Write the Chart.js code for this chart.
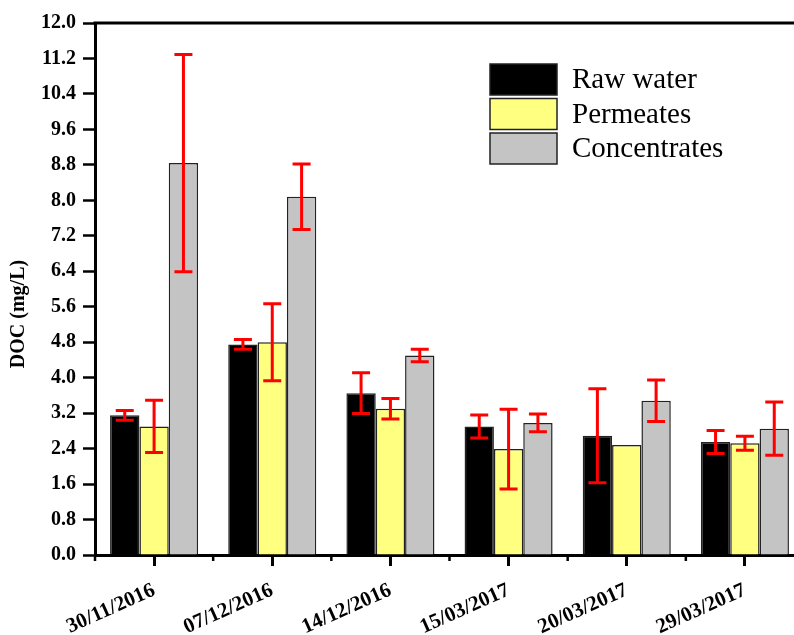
<!DOCTYPE html>
<html>
<head>
<meta charset="utf-8">
<script src="https://cdn.jsdelivr.net/npm/chart.js@4.4.0/dist/chart.umd.min.js"></script>
<style>
  html, body { margin: 0; padding: 0; overflow: hidden; background: #fff; }
  #wrap { width: 820px; height: 635px; }
</style>
</head>
<body>
<div id="wrap"><canvas id="chart"></canvas></div>
<script>
// sampling dates
const dates = ['30/11/2016', '07/12/2016', '14/12/2016', '15/03/2017', '20/03/2017', '29/03/2017'];

// DOC means (mg/L) and standard deviations
const rawWater = [3.15, 4.75, 3.65, 2.90, 2.69, 2.55];
const rawWaterSd = [0.11, 0.11, 0.46, 0.26, 1.06, 0.26];
const permeates = [2.90, 4.80, 3.30, 2.39, 2.48, 2.52];
const permeatesSd = [0.59, 0.87, 0.23, 0.90, 0, 0.16];
const concentrates = [8.84, 8.08, 4.50, 2.98, 3.48, 2.85];
const concentratesSd = [2.45, 0.74, 0.14, 0.20, 0.47, 0.60];

const yTicks = [0, 0.8, 1.6, 2.4, 3.2, 4.0, 4.8, 5.6, 6.4, 7.2, 8.0, 8.8, 9.6, 10.4, 11.2, 12.0];

const serif = "'Liberation Serif', 'Times New Roman', serif";

// red error bars with caps
const errorBars = {
  id: 'errorBars',
  afterDatasetsDraw(chart) {
    const ctx = chart.ctx;
    const y = chart.scales.y;
    ctx.save();
    ctx.strokeStyle = '#ff0000';
    ctx.lineWidth = 3;
    chart.data.datasets.forEach((ds, i) => {
      chart.getDatasetMeta(i).data.forEach((bar, j) => {
        const sd = ds.sd[j];
        if (!sd) return;
        const top = y.getPixelForValue(ds.data[j] + sd);
        const bot = y.getPixelForValue(ds.data[j] - sd);
        const half = 9;
        ctx.beginPath();
        ctx.moveTo(bar.x, top); ctx.lineTo(bar.x, bot);
        ctx.moveTo(bar.x - half, top); ctx.lineTo(bar.x + half, top);
        ctx.moveTo(bar.x - half, bot); ctx.lineTo(bar.x + half, bot);
        ctx.stroke();
      });
    });
    ctx.restore();
  }
};

// top frame line, minor x ticks, legend and y title
const decorations = {
  id: 'decorations',
  afterDraw(chart) {
    const ctx = chart.ctx;
    const area = chart.chartArea;
    const x = chart.scales.x;
    ctx.save();

    ctx.strokeStyle = '#000';
    ctx.lineWidth = 3;
    ctx.beginPath();
    ctx.moveTo(area.left - 1.5, area.top);
    ctx.lineTo(area.right, area.top);
    ctx.stroke();

    const step = x.getPixelForTick(1) - x.getPixelForTick(0);
    ctx.lineWidth = 2.5;
    for (let i = 0; i <= dates.length; i++) {
      const px = x.getPixelForTick(0) - step / 2 + i * step;
      ctx.beginPath();
      ctx.moveTo(px, area.bottom);
      ctx.lineTo(px, area.bottom + 6);
      ctx.stroke();
    }

    // legend
    const boxX = 490, boxY = 64, boxW = 67, boxH = 31, gap = 3.5;
    ctx.font = '29px ' + serif;
    ctx.textBaseline = 'middle';
    chart.data.datasets.forEach((ds, i) => {
      const by = boxY + i * (boxH + gap);
      ctx.fillStyle = ds.backgroundColor;
      ctx.fillRect(boxX, by, boxW, boxH);
      ctx.lineWidth = 1.5;
      ctx.strokeStyle = '#222';
      ctx.strokeRect(boxX, by, boxW, boxH);
      ctx.fillStyle = '#000';
      ctx.fillText(ds.label, 572, by + boxH / 2 + 1);
    });

    // y axis title
    ctx.translate(19, 314);
    ctx.rotate(-Math.PI / 2);
    ctx.font = 'bold 20px ' + serif;
    ctx.textAlign = 'center';
    ctx.textBaseline = 'middle';
    ctx.fillStyle = '#000';
    ctx.fillText('DOC (mg/L)', 0, 0);
    ctx.restore();
  }
};

new Chart(document.getElementById('chart'), {
  type: 'bar',
  data: {
    labels: dates,
    datasets: [
      { label: 'Raw water', data: rawWater, sd: rawWaterSd, backgroundColor: '#000000' },
      { label: 'Permeates', data: permeates, sd: permeatesSd, backgroundColor: '#ffff80' },
      { label: 'Concentrates', data: concentrates, sd: concentratesSd, backgroundColor: '#c4c4c4' }
    ]
  },
  options: {
    responsive: true,
    maintainAspectRatio: false,
    animation: false,
    layout: { padding: { top: 23, right: 16, left: 0, bottom: 0 } },
    datasets: {
      bar: {
        categoryPercentage: 0.745,
        barPercentage: 1.0,
        borderColor: '#222',
        borderWidth: 1.5
      }
    },
    plugins: {
      legend: { display: false },
      tooltip: { enabled: false }
    },
    scales: {
      x: {
        grid: {
          offset: false,
          drawOnChartArea: false,
          tickLength: 11,
          tickWidth: 3,
          tickColor: '#000'
        },
        border: { display: true, color: '#000', width: 3 },
        ticks: {
          autoSkip: false,
          minRotation: 24,
          maxRotation: 24,
          padding: 12,
          color: '#000',
          font: { family: serif, size: 21, weight: 'bold' }
        },
        afterFit(scale) { scale.height = 80; }
      },
      y: {
        min: 0,
        max: 12,
        grid: {
          drawOnChartArea: false,
          tickLength: 12,
          tickWidth: 2.5,
          tickColor: '#000'
        },
        border: { display: true, color: '#000', width: 3 },
        afterBuildTicks(scale) { scale.ticks = yTicks.map(v => ({ value: v })); },
        ticks: {
          padding: 7,
          color: '#000',
          font: { family: serif, size: 20, weight: 'bold' },
          callback: v => Number(v).toFixed(1)
        },
        afterFit(scale) { scale.width = 95; }
      }
    }
  },
  plugins: [errorBars, decorations]
});
</script>
</body>
</html>
